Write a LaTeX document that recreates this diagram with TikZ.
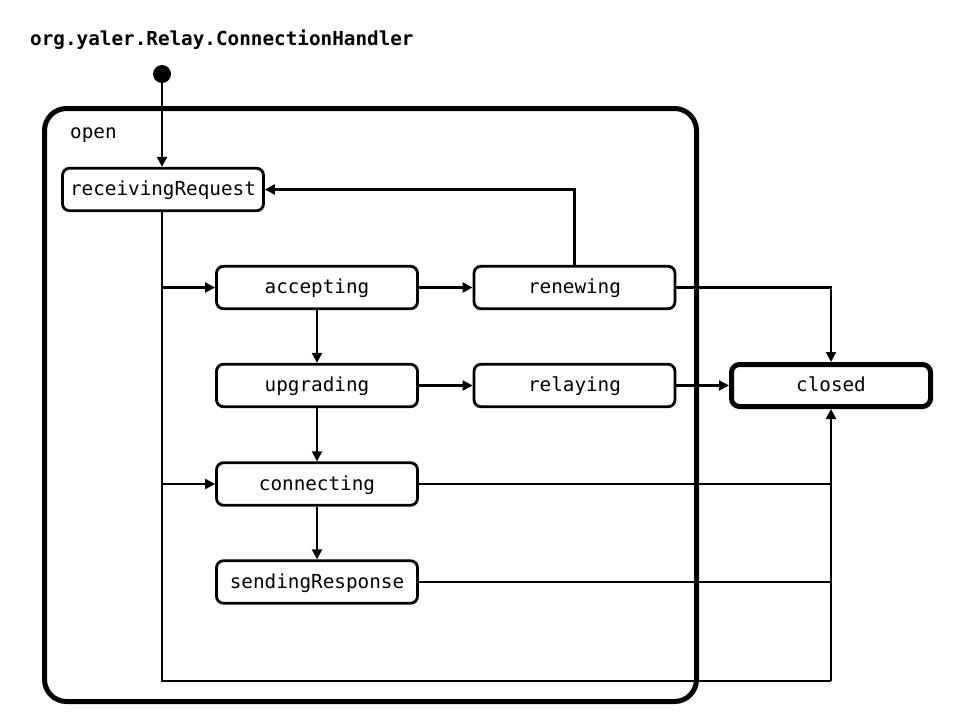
\documentclass[tikz,border=0pt]{standalone}
\usepackage{fontspec}
\setmonofont{DejaVu Sans Mono}
\usetikzlibrary{arrows.meta}
\begin{document}
\begin{tikzpicture}[x=1pt,y=-1pt,
  every node/.style={font=\ttfamily\fontsize{19.3}{22}\selectfont},
  statebox/.style={draw, line width=2.8pt, rounded corners=7pt, minimum width=201pt, minimum height=42.5pt, inner sep=0pt, fill=white, text height=15pt, text depth=3pt},
  finalbox/.style={draw, line width=5pt, rounded corners=8pt, minimum width=199pt, minimum height=42pt, inner sep=0pt, fill=white, text height=15pt, text depth=3pt},
  conn/.style={line width=2.2pt},
  arr/.style={conn, -{Triangle[length=10pt,width=10pt]}}
]
\useasboundingbox (0,0) rectangle (960,720);
\fill[white] (0,0) rectangle (960,720);

% composite state
\draw[line width=5pt, rounded corners=22pt] (44.5,108.5) rectangle (696.5,701.5);
\node[anchor=base west, inner sep=0pt] (title) at (30,45) {\bfseries org.yaler.Relay.ConnectionHandler};
\node[anchor=base west, inner sep=0pt] (openlbl) at (70,138) {open};

\fill (162,74) circle (9pt);
\coordinate (init) at (162,74);

\node[statebox] (recv) at (163,189.5) {receivingRequest};
\node[statebox] (acc) at (317,287.5) {accepting};
\node[statebox] (ren) at (574.5,287.5) {renewing};
\node[statebox] (upg) at (317,385.5) {upgrading};
\node[statebox] (rel) at (574.5,385.5) {relaying};
\node[statebox] (con) at (317,484) {connecting};
\node[statebox] (snd) at (317,582) {sendingResponse};
\node[finalbox] (closed) at (831,385.5) {closed};

\coordinate (tr) at (162,681);
\coordinate (br) at (831,681);

% transitions
\draw[arr] (init) -- (init |- recv.north);
\draw[conn] (init |- recv.south) -- (tr) -- (br);
\draw[arr] (br) -- (closed.south);
\draw[arr] (init |- acc.west) -- (acc.west);
\draw[arr] (init |- con.west) -- (con.west);
\draw[arr] (acc.east) -- (ren.west);
\draw[arr] (acc.south) -- (upg.north);
\draw[arr] (upg.east) -- (rel.west);
\draw[arr] (upg.south) -- (con.north);
\draw[arr] (con.south) -- (snd.north);
\draw[arr] (ren.north) |- (recv.east);
\draw[arr] (ren.east) -| (closed.north);
\draw[arr] (rel.east) -- (closed.west);
\draw[conn] (con.east) -- (con.east -| closed);
\draw[conn] (snd.east) -- (snd.east -| closed);
\end{tikzpicture}
\end{document}
